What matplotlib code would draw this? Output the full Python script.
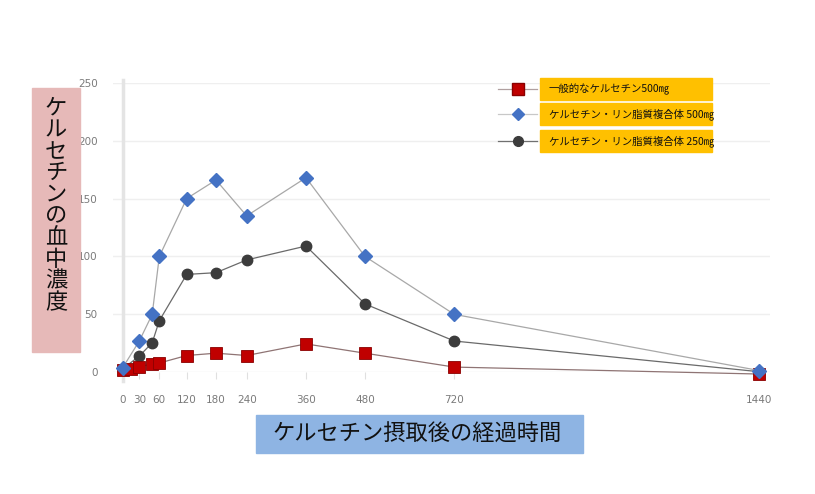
import numpy as np
import matplotlib
matplotlib.use("Agg")
import matplotlib.pyplot as plt
from matplotlib.patches import Rectangle

plt.rcParams['font.family'] = ['Noto Sans CJK JP', 'DejaVu Sans']

# data (minutes after intake, blood concentration)
t_red = [0, 15, 30, 45, 60, 120, 180, 240, 360, 480, 720, 1440]
v_red = [2, 3, 5, 7, 8, 14.5, 16.5, 14.5, 24.5, 16.5, 4.5, -1.5]
t_blue = [0, 30, 45, 60, 120, 180, 240, 360, 480, 720, 1440]
v_blue = [4, 27, 50, 100, 150, 166, 135, 168, 100, 50, 1.5]
t_black = [0, 30, 45, 60, 120, 180, 240, 360, 480, 720, 1440]
v_black = [3, 14, 25.5, 44.5, 84.5, 86, 97, 109, 59, 27, 0.5]

x_ticks = [0, 30, 60, 120, 180, 240, 360, 480, 720, 1440]
y_ticks = [0, 50, 100, 150, 200, 250]
labels = ["一般的なケルセチン500㎎",
          "ケルセチン・リン脂質複合体 500㎎",
          "ケルセチン・リン脂質複合体 250㎎"]
ylabel = "ケルセチンの血中濃度"
xlabel = "ケルセチン摂取後の経過時間"

# uneven time axis of the original (piecewise linear)
knot_t = np.array([-60, 0, 15, 30, 45, 60, 120, 180, 240, 360, 480, 720, 1440, 1560])
knot_p = np.array([-33.2, 0, 8.3, 16.6, 29.5, 36.6, 64, 93.3, 124, 183.3, 242.3, 331.6, 636.6, 686.6])


def fwd(t):
    return np.interp(t, knot_t, knot_p)


def inv(p):
    return np.interp(p, knot_p, knot_t)


fig = plt.figure(figsize=(8.15, 4.94), dpi=100)
ax = fig.add_axes([113 / 815, 1 - 372.3 / 494, 657 / 815, 289.6 / 494])
ax.set_xscale('function', functions=(fwd, inv))
ax.set_xlim(inv(-9.7), inv(647.3))
ax.set_ylim(0, 250)

for s in ax.spines.values():
    s.set_visible(False)
for y in y_ticks:
    ax.axhline(y, color='#efefef', lw=1, zorder=0)
ax.axvline(0, ymin=-0.03, ymax=1.01, color='#e4e4e4', lw=2.5, zorder=0, clip_on=False)

ax.set_yticks(y_ticks)
ax.set_xticks(x_ticks)
ax.set_xticklabels([str(x) for x in x_ticks])
ax.tick_params(axis='y', length=0, pad=11, labelsize=7.5, labelcolor='#7a7a7a')
ax.tick_params(axis='x', length=5, width=0.8, color='#e0e0e0', pad=11,
               labelsize=7.5, labelcolor='#7a7a7a')
for lab in ax.get_xticklabels() + ax.get_yticklabels():
    lab.set_family('DejaVu Sans')

ax.plot(t_black, v_black, color='#6a6a6a', lw=0.9, marker='o', ms=7.5,
        mfc='#3c3c3c', mec='#3c3c3c', clip_on=False, zorder=3)
ax.plot(t_red, v_red, color='#8f7474', lw=0.9, marker='s', ms=8.5,
        mfc='#c00000', mec='#8a0000', mew=0.6, clip_on=False, zorder=4)
ax.plot(t_blue, v_blue, color='#a8a8a8', lw=0.9, marker='D', ms=7,
        mfc='#4472c4', mec='#4472c4', clip_on=False, zorder=5)

# overlay in pixel coordinates for the boxes and the legend
ov = fig.add_axes([0, 0, 1, 1], zorder=10)
ov.set_xlim(0, 815)
ov.set_ylim(494, 0)
ov.axis('off')

ov.add_patch(Rectangle((32, 88), 48, 264, color='#e6b9b8'))
for i, ch in enumerate(ylabel):
    ov.text(56, 108 + i * 21.6, ch, ha='center', va='center', fontsize=16, color='#111111')

ov.add_patch(Rectangle((256, 415), 327, 38, color='#8eb4e3'))
ov.text(417, 434, xlabel, ha='center', va='center', fontsize=16, color='#111111')

styles = [dict(color='#b0a0a0', marker='s', ms=8, mfc='#c00000', mec='#8a0000'),
          dict(color='#c8c8c8', marker='D', ms=6.5, mfc='#4472c4', mec='#4472c4'),
          dict(color='#707070', marker='o', ms=7, mfc='#3c3c3c', mec='#3c3c3c')]
for yc, lab, st in zip([89, 114, 141], labels, styles):
    ov.plot([498, 537], [yc, yc], lw=0.9, **st, markevery=[])
    ov.plot([517.5], [yc], ls='none', **{k: v for k, v in st.items() if k != 'color'})
    ov.add_patch(Rectangle((540, yc - 11), 172, 22, color='#ffc000'))
    ov.text(549, yc, lab, ha='left', va='center', fontsize=7.5, color='#111111')

fig.savefig('out.png', dpi=100)
